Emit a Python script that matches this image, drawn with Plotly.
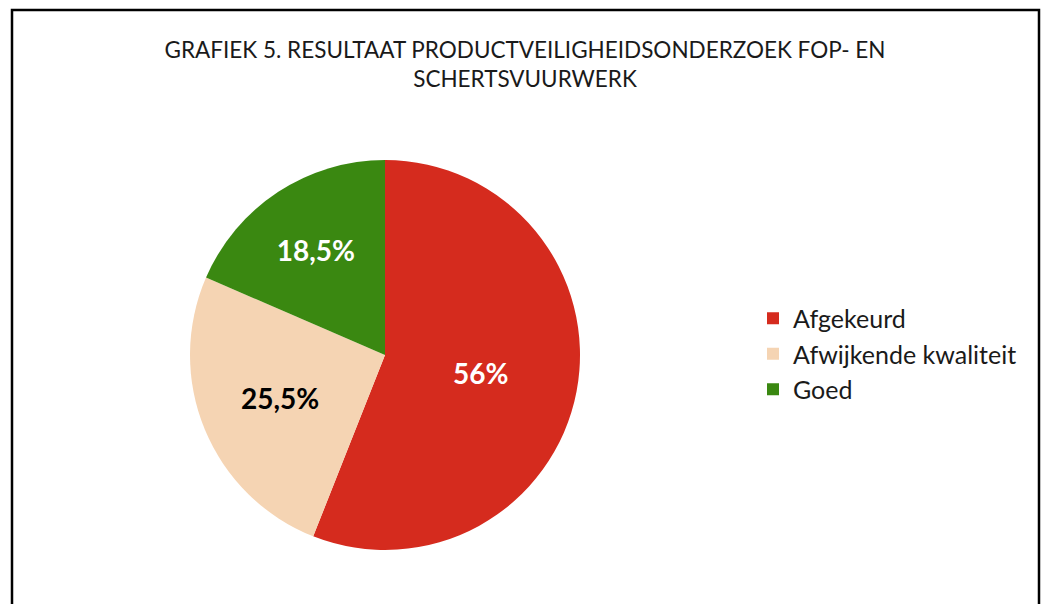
import plotly.graph_objects as go

categories = ["Afgekeurd", "Afwijkende kwaliteit", "Goed"]
values = [56, 25.5, 18.5]
colors = ["#D52B1E", "#F5D4B3", "#3A8811"]
text_colors = ["white", "black", "white"]

def fmt(v):
    s = ("%g" % v).replace(".", ",")
    return s + "%"

labels_text = [fmt(v) for v in values]

W, H = 1043, 604

fig = go.Figure(go.Pie(
    labels=categories,
    values=values,
    text=labels_text,
    textinfo="text",
    texttemplate="<b>%{text}</b>",
    sort=False,
    direction="clockwise",
    rotation=0,
    marker=dict(colors=colors, line=dict(width=0)),
    textfont=dict(family="Lato", size=28, color=text_colors),
    insidetextfont=dict(family="Lato", size=28, color=text_colors),
    textposition="inside",
    insidetextorientation="horizontal",
    hoverinfo="label+percent",
    domain=dict(x=[190 / W, 580 / W], y=[1 - 550 / H, 1 - 160 / H]),
))

fig.update_layout(
    width=W, height=H,
    margin=dict(l=0, r=0, t=0, b=0),
    paper_bgcolor="white",
    plot_bgcolor="white",
    font=dict(family="Lato", color="#1a1a1a"),
    title=dict(
        text="GRAFIEK 5. RESULTAAT PRODUCTVEILIGHEIDSONDERZOEK FOP- EN<br>SCHERTSVUURWERK",
        x=525 / W, xanchor="center",
        y=1 - 58 / H, yanchor="top",
        font=dict(family="Lato", size=22.5, color="#1a1a1a"),
    ),
    showlegend=True,
    legend=dict(
        x=753 / W, xanchor="left",
        y=1 - 354 / H, yanchor="middle",
        font=dict(family="Lato", size=25, color="#1a1a1a"),
        itemwidth=30,
        bgcolor="rgba(0,0,0,0)",
    ),
    shapes=[dict(
        type="rect", xref="paper", yref="paper",
        x0=12 / W, x1=1039 / W, y0=-0.05, y1=1 - 10 / H,
        line=dict(color="black", width=2.5),
        fillcolor="rgba(0,0,0,0)",
    )],
)

fig.write_html(
    "out.html",
    config={"displayModeBar": False},
    post_script="document.body.style.margin='0';document.body.style.overflow='hidden';",
)
